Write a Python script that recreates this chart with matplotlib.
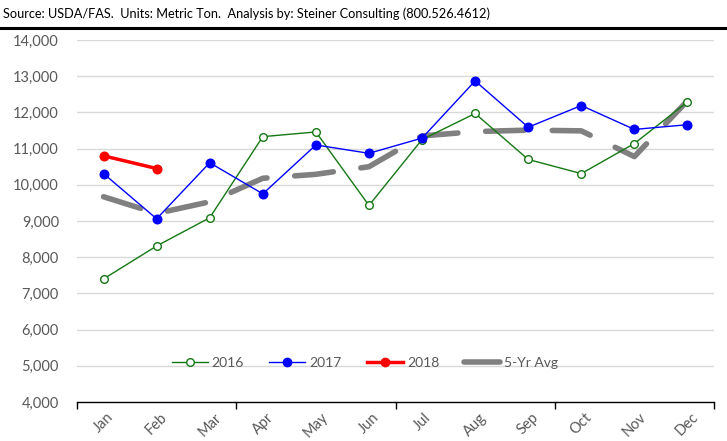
import matplotlib.pyplot as plt
from matplotlib.lines import Line2D

months = ["Jan", "Feb", "Mar", "Apr", "May", "Jun",
          "Jul", "Aug", "Sep", "Oct", "Nov", "Dec"]
y2016 = [7400, 8310, 9090, 11330, 11460, 9430, 11250, 11970, 10700, 10310, 11140, 12290]
y2017 = [10310, 9060, 10610, 9750, 11100, 10870, 11290, 12870, 11590, 12190, 11530, 11660]
y2018 = [10800, 10450]
avg5 = [9670, 9210, 9530, 10180, 10290, 10500, 11350, 11470, 11510, 11490, 10780, 12320]

plt.rcParams['font.family'] = ['Lato', 'DejaVu Sans']
grey_txt = "#595959"

fig = plt.figure(figsize=(7.27, 4.41), dpi=100)
ax = fig.add_axes([77 / 727, 1 - 402 / 441, 637 / 727, 362 / 441])

x = list(range(len(months)))
avg_line, = ax.plot(x, avg5, color="#808080", lw=4.0, solid_capstyle="round",
                    dash_capstyle="round", zorder=2)
avg_line.set_dashes((7.0, 5.0))
ax.plot(x, y2016, color="#147814", lw=1.0, marker="o", ms=5.5,
        mfc="white", mec="#147814", mew=1.0, zorder=3)
ax.plot(x, y2017, color="#0000ff", lw=1.0, marker="o", ms=6.2,
        mfc="#0000ff", mec="#0000ff", zorder=4)
ax.plot(range(len(y2018)), y2018, color="#ff0000", lw=2.5, marker="o", ms=6.2,
        mfc="#ff0000", mec="#ff0000", zorder=5)

ax.set_xlim(-0.5, 11.5)
ax.set_ylim(4000, 14000)
ax.set_yticks(range(4000, 14001, 1000))
ax.set_yticklabels([f"{v:,}" for v in range(4000, 14001, 1000)],
                   fontsize=10.5, color=grey_txt)
ax.yaxis.grid(True, color="#d9d9d9", lw=1.0)
ax.set_axisbelow(True)
ax.tick_params(axis="y", length=0, pad=13)

# month labels between tick marks placed every quarter
ax.set_xticks([-0.5, 2.5, 5.5, 8.5, 11.5])
ax.set_xticklabels([])
ax.tick_params(axis="x", direction="out", length=5, width=1, color="black")
ax.set_xticks(x, minor=True)
ax.set_xticklabels(months, minor=True, rotation=45, fontsize=10.5,
                   color=grey_txt)
ax.tick_params(axis="x", which="minor", length=0, pad=6)

for s in ["top", "right", "left"]:
    ax.spines[s].set_visible(False)
ax.spines["bottom"].set_color("black")
ax.spines["bottom"].set_linewidth(1.0)

handles = [
    Line2D([], [], color="#147814", lw=1.0, marker="o", ms=5.5, mfc="white", mec="#147814"),
    Line2D([], [], color="#0000ff", lw=1.0, marker="o", ms=6, mfc="#0000ff"),
    Line2D([], [], color="#ff0000", lw=2.5, marker="o", ms=6, mfc="#ff0000"),
    Line2D([], [], color="#808080", lw=4.0, solid_capstyle="round"),
]
ax.legend(handles, ["2016", "2017", "2018", "5-Yr Avg"], loc="center",
          bbox_to_anchor=(365 / 727, 1 - 363 / 441), bbox_transform=fig.transFigure,
          ncol=4, frameon=False, fontsize=10, handlelength=2.6,
          handletextpad=0.3, columnspacing=1.8, labelcolor=grey_txt)

fig.text(3 / 727, 1 - 14 / 441, "Source: USDA/FAS.  Units: Metric Ton.  Analysis by: "
         "Steiner Consulting (800.526.4612)", fontsize=9.2, color="black",
         ha="left", va="center")
fig.add_artist(Line2D([0, 1], [1 - 28 / 441, 1 - 28 / 441], color="black", lw=2.2,
                      transform=fig.transFigure))

fig.savefig("out.png", dpi=100)
